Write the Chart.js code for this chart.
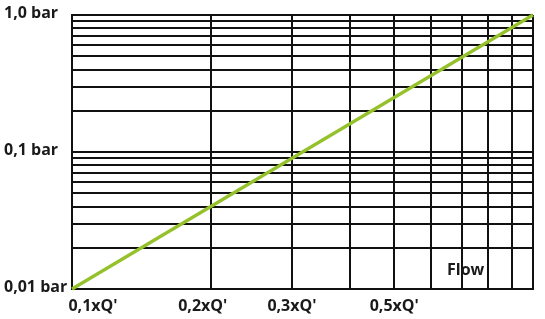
<!DOCTYPE html>
<html>
<head>
<meta charset="utf-8">
<script src="https://cdn.jsdelivr.net/npm/chart.js@4/dist/chart.umd.min.js"></script>
<style>
html,body{margin:0;padding:0;background:#fff;}
#wrap{width:545px;height:319px;}
</style>
</head>
<body>
<div id="wrap"><canvas id="c" width="545" height="319"></canvas></div>
<script>
// Data
const flowValues = [0.1, 1.0];          // x (fraction of Q')
const pressureValues = [0.01, 1.0];     // y (bar)
const xGridValues = [0.1,0.2,0.3,0.4,0.5,0.6,0.7,0.8,0.9,1.0];
const yGridValues = [0.01,0.02,0.03,0.04,0.05,0.06,0.07,0.08,0.09,0.1,0.2,0.3,0.4,0.5,0.6,0.7,0.8,0.9,1.0];
const xTickValues = [0.1, 0.2, 0.3, 0.5];
const xTickLabels = ["0,1xQ'", "0,2xQ'", "0,3xQ'", "0,5xQ'"];
const yTickValues = [1.0, 0.1, 0.01];
const yTickLabels = ["1,0 bar", "0,1 bar", "0,01 bar"];
const axisTitle = "Flow";

const xLabelShift = [21, -8, 0, 0];
const FONT = 'bold 16px "Open Sans", sans-serif';

const labelPlugin = {
  id: 'labels',
  afterDraw(chart) {
    const ctx = chart.ctx;
    const xs = chart.scales.x, ys = chart.scales.y;
    ctx.save();
    ctx.fillStyle = '#1a1a1a';
    ctx.font = FONT;
    ctx.textBaseline = 'middle';
    ctx.textAlign = 'center';
    xTickValues.forEach((v, i) => {
      ctx.fillText(xTickLabels[i], xs.getPixelForValue(v) + xLabelShift[i], 306);
    });
    ctx.textAlign = 'left';
    yTickValues.forEach((v, i) => {
      ctx.fillText(yTickLabels[i], 4, ys.getPixelForValue(v) - 2);
    });
    ctx.fillText(axisTitle, 447, 270);
    ctx.restore();
  }
};

new Chart(document.getElementById('c'), {
  type: 'line',
  data: {
    datasets: [{
      data: flowValues.map((x, i) => ({x: x, y: pressureValues[i]})),
      borderColor: '#95c12b',
      borderWidth: 3.2,
      pointRadius: 0,
      fill: false,
      clip: false
    }]
  },
  options: {
    responsive: false,
    animation: false,
    devicePixelRatio: 1,
    layout: { padding: { left: 72, top: 15, right: 12, bottom: 30 } },
    plugins: { legend: { display: false }, tooltip: { enabled: false } },
    scales: {
      x: {
        type: 'logarithmic',
        min: 0.1, max: 1,
        afterBuildTicks(s) { s.ticks = xGridValues.map(v => ({value: v})); },
        ticks: { display: false },
        grid: { color: '#111', lineWidth: 2, drawTicks: false },
        border: { color: '#111', width: 2 }
      },
      y: {
        type: 'logarithmic',
        min: 0.01, max: 1,
        afterBuildTicks(s) { s.ticks = yGridValues.map(v => ({value: v})); },
        ticks: { display: false },
        grid: { color: '#111', lineWidth: 2, drawTicks: false },
        border: { color: '#111', width: 2 }
      }
    }
  },
  plugins: [labelPlugin]
});
</script>
</body>
</html>
